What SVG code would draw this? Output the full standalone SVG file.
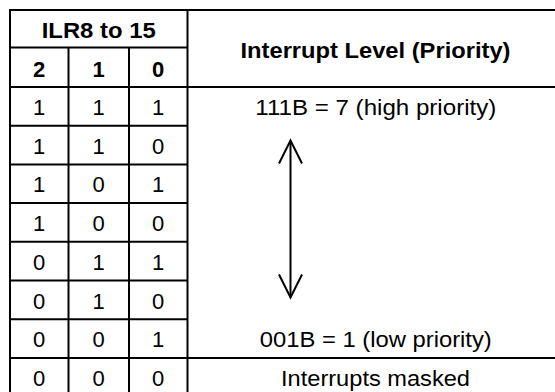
<svg xmlns="http://www.w3.org/2000/svg" width="555" height="392" viewBox="0 0 555 392">
<style>
.g line{stroke:#000;stroke-width:2}
text{font-family:"Liberation Sans",Arial,sans-serif;font-size:22px;fill:#000;text-anchor:middle}
.b{font-weight:bold}
.arr{stroke:#000;stroke-width:2;fill:none}
</style>
<rect width="555" height="392" fill="#fff"/>
<g id="grid" class="g">
<line x1="9" y1="10" x2="560" y2="10"/>
<line x1="10" y1="47.5" x2="187.5" y2="47.5"/>
<line x1="9" y1="87" x2="560" y2="87"/>
<line x1="10" y1="125.7" x2="187.5" y2="125.7"/>
<line x1="10" y1="164.4" x2="187.5" y2="164.4"/>
<line x1="10" y1="203.1" x2="187.5" y2="203.1"/>
<line x1="10" y1="241.8" x2="187.5" y2="241.8"/>
<line x1="10" y1="280.5" x2="187.5" y2="280.5"/>
<line x1="10" y1="319.2" x2="187.5" y2="319.2"/>
<line x1="10" y1="357.9" x2="560" y2="357.9"/>
<line x1="10" y1="10" x2="10" y2="400"/>
<line x1="68.5" y1="47.5" x2="68.5" y2="400"/>
<line x1="129" y1="47.5" x2="129" y2="400"/>
<line x1="187.5" y1="10" x2="187.5" y2="400"/>
</g>
<g id="header">
<text class="b" x="98.7" y="37.5" textLength="114" lengthAdjust="spacingAndGlyphs">ILR8 to 15</text>
<text class="b" x="39.2" y="76.5">2</text>
<text class="b" x="98.7" y="76.5">1</text>
<text class="b" x="158.2" y="76.5">0</text>
<text class="b" x="375.5" y="58.3" textLength="270" lengthAdjust="spacingAndGlyphs">Interrupt Level (Priority)</text>
</g>
<g id="rows">
<text x="39.2" y="115">1</text><text x="98.7" y="115">1</text><text x="158.2" y="115">1</text>
<text x="39.2" y="153.7">1</text><text x="98.7" y="153.7">1</text><text x="158.2" y="153.7">0</text>
<text x="39.2" y="192.4">1</text><text x="98.7" y="192.4">0</text><text x="158.2" y="192.4">1</text>
<text x="39.2" y="231.1">1</text><text x="98.7" y="231.1">0</text><text x="158.2" y="231.1">0</text>
<text x="39.2" y="269.8">0</text><text x="98.7" y="269.8">1</text><text x="158.2" y="269.8">1</text>
<text x="39.2" y="308.5">0</text><text x="98.7" y="308.5">1</text><text x="158.2" y="308.5">0</text>
<text x="39.2" y="347.2">0</text><text x="98.7" y="347.2">0</text><text x="158.2" y="347.2">1</text>
<text x="39.2" y="385.5">0</text><text x="98.7" y="385.5">0</text><text x="158.2" y="385.5">0</text>
</g>
<g id="levels">
<text x="375.8" y="115" textLength="241" lengthAdjust="spacingAndGlyphs">111B = 7 (high priority)</text>
<text x="375.8" y="347.2" textLength="232" lengthAdjust="spacingAndGlyphs">001B = 1 (low priority)</text>
<text x="375.5" y="385.5" textLength="189" lengthAdjust="spacingAndGlyphs">Interrupts masked</text>
</g>
<g id="connectors">
<line class="arr" x1="290.5" y1="141" x2="290.5" y2="297"/>
<polyline class="arr" points="279,163.5 290.5,140.5 302,163.5"/>
<polyline class="arr" points="279,274.5 290.5,297.5 302,274.5"/>
</g>
</svg>
